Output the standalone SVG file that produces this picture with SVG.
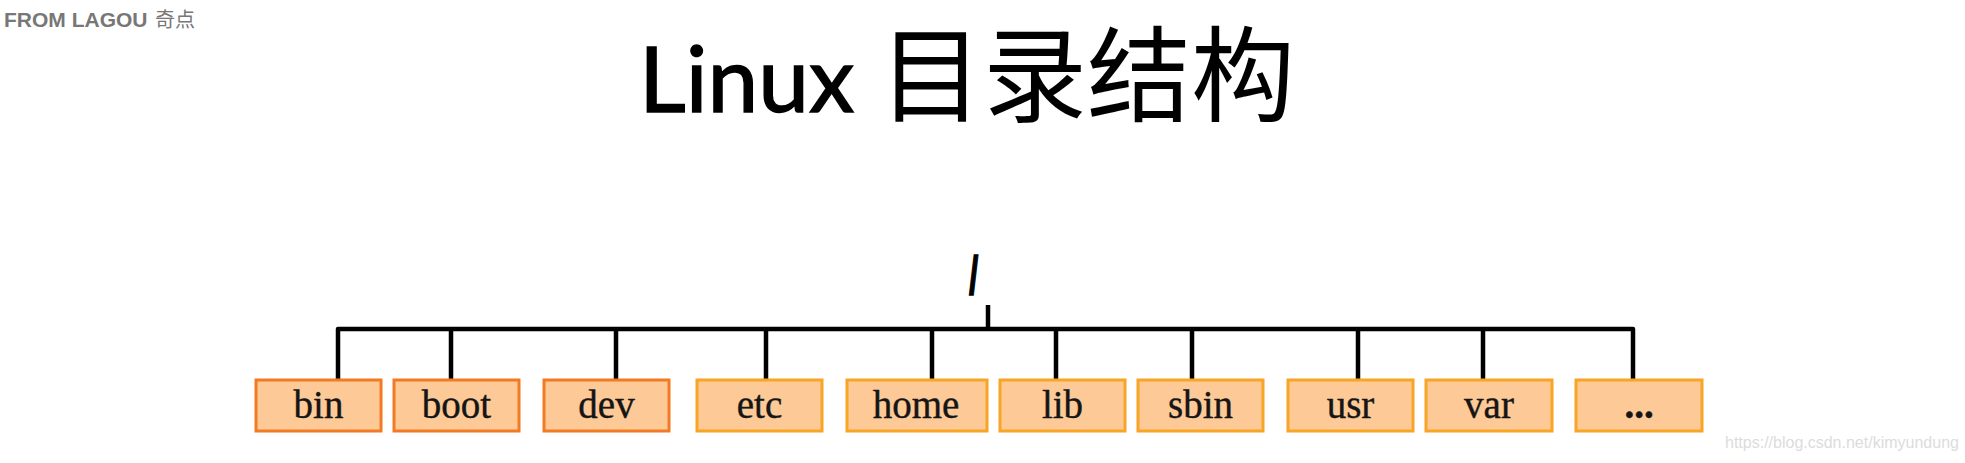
<svg xmlns="http://www.w3.org/2000/svg" width="1965" height="463" viewBox="0 0 1965 463">
<style>
.box{fill:#fdca97;stroke-width:3}
.b1{stroke:#f27a22}
.b2{stroke:#f8a425}
.lbl{font-family:"Liberation Serif","Times New Roman",serif;font-size:39px;fill:#151515;text-anchor:middle;stroke:#151515;stroke-width:0.4px}
.conn{fill:none;stroke:#000;stroke-width:4.5;stroke-linejoin:round}
</style>
<rect width="1965" height="463" fill="#fff"/>
<text x="4" y="27" font-family="Liberation Sans, Arial, sans-serif" font-weight="bold" font-size="21" fill="#777">FROM LAGOU</text>
<text x="155" y="27" font-family="Noto Sans CJK SC, sans-serif" font-size="20" fill="#777">奇点</text>
<g id="title">
<text x="639" y="112" font-family="Lato, sans-serif" font-size="91" fill="#000" stroke="#000" stroke-width="1.4">Linux</text>
<text x="879" y="114" font-family="Noto Sans CJK SC, sans-serif" font-size="104" fill="#000">目录结构</text>
</g>
<g id="root">
<text x="0" y="0" transform="translate(969,294) scale(0.62,1)" font-family="Liberation Sans, Arial, sans-serif" font-weight="bold" font-size="54" fill="#000" stroke="#000" stroke-width="1.5">/</text>
</g>
<g id="connectors">
<path class="conn" d="M988,305 V329"/>
<path class="conn" d="M338,380 V329 H1633 V380"/>
<path class="conn" d="M451,329 V380 M616,329 V380 M766,329 V380 M932,329 V380 M1056,329 V380 M1192,329 V380 M1358,329 V380 M1483,329 V380"/>
</g>
<g id="n-bin"><rect class="box b1" x="256" y="380" width="125" height="51"/><text class="lbl" x="318.5" y="418">bin</text></g>
<g id="n-boot"><rect class="box b1" x="394" y="380" width="125" height="51"/><text class="lbl" x="456.5" y="418">boot</text></g>
<g id="n-dev"><rect class="box b1" x="544" y="380" width="125" height="51"/><text class="lbl" x="606.5" y="418">dev</text></g>
<g id="n-etc"><rect class="box b2" x="697" y="380" width="125" height="51"/><text class="lbl" x="759.5" y="418">etc</text></g>
<g id="n-home"><rect class="box b2" x="847" y="380" width="140" height="51"/><text class="lbl" x="916" y="418">home</text></g>
<g id="n-lib"><rect class="box b2" x="1000" y="380" width="125" height="51"/><text class="lbl" x="1062.5" y="418">lib</text></g>
<g id="n-sbin"><rect class="box b2" x="1138" y="380" width="125" height="51"/><text class="lbl" x="1200.5" y="418">sbin</text></g>
<g id="n-usr"><rect class="box b2" x="1288" y="380" width="125" height="51"/><text class="lbl" x="1350.5" y="418">usr</text></g>
<g id="n-var"><rect class="box b2" x="1426" y="380" width="126" height="51"/><text class="lbl" x="1489" y="418">var</text></g>
<g id="n-more"><rect class="box b2" x="1576" y="380" width="126" height="51"/><text class="lbl" x="1639" y="418" font-weight="bold">...</text></g>
<text x="1725" y="448" font-family="Liberation Sans, Arial, sans-serif" font-size="16" fill="#dcdcdc">https://blog.csdn.net/kimyundung</text>
</svg>
